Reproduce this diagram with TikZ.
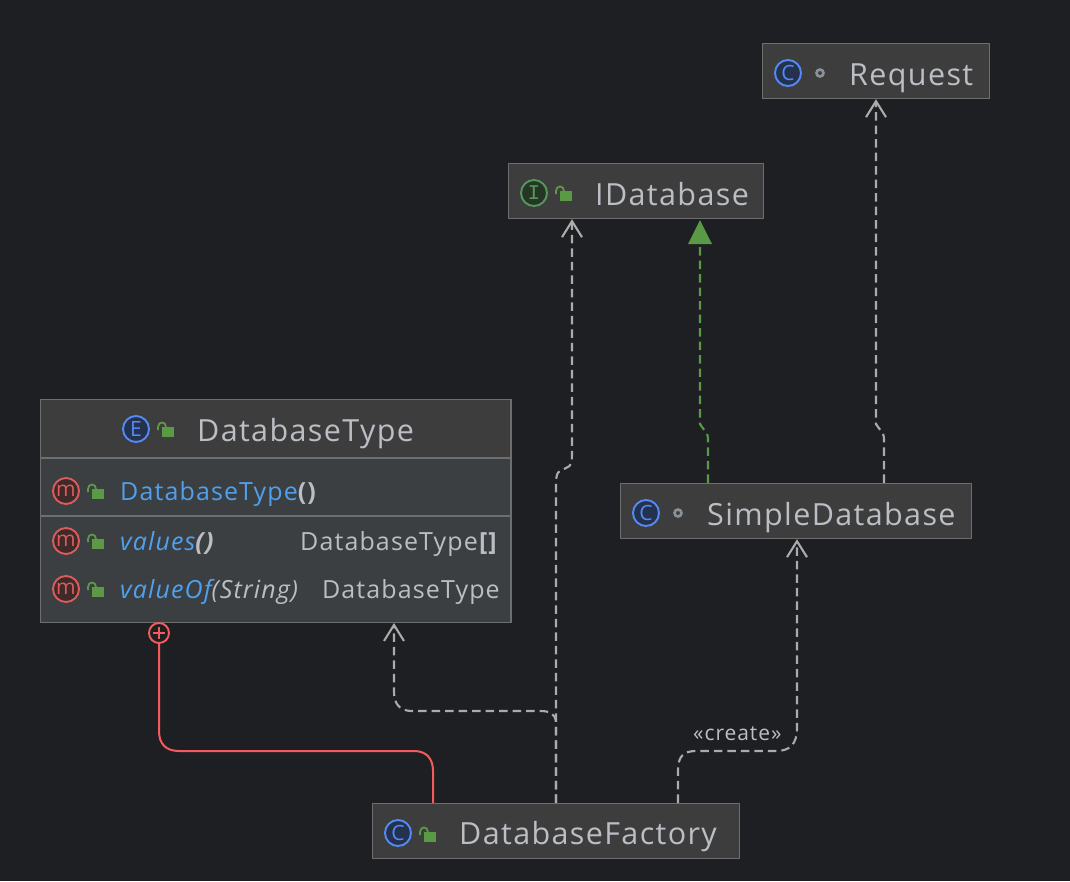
\documentclass[tikz,border=0pt]{standalone}
\usepackage{fontspec}
\setmainfont[LetterSpace=4.5]{Open Sans}
\newfontfamily\serifI{Liberation Mono}
\usetikzlibrary{arrows.meta}
\definecolor{bg}{HTML}{1E1F22}
\definecolor{hdr}{HTML}{3D3D3D}
\definecolor{bodyc}{HTML}{3C3F41}
\definecolor{edge}{HTML}{6E6E6E}
\definecolor{txt}{HTML}{BBBEC4}
\definecolor{meth}{HTML}{4FA0EE}
\definecolor{conn}{HTML}{ABABAB}
\definecolor{grn}{HTML}{57965C}
\definecolor{grnline}{HTML}{5A9A46}
\definecolor{redl}{HTML}{F25C5C}
\definecolor{blu}{HTML}{548AF7}
\definecolor{blud}{HTML}{25324D}
\definecolor{grnd}{HTML}{253627}
\definecolor{redm}{HTML}{DB5C5C}
\definecolor{redd}{HTML}{402929}
\definecolor{dotc}{HTML}{8A9299}
\definecolor{lockc}{HTML}{5A9A46}
\newcommand{\bigsz}{\fontsize{30.5}{32}\selectfont}
\newcommand{\medsz}{\fontsize{25}{28}\selectfont}
\newcommand{\iconsz}{\fontsize{21}{21}\selectfont}
\tikzset{
  x=1pt,y=-1pt,
  classbox/.style={draw=edge,fill=hdr,line width=1.4pt,minimum width=#1,inner sep=0pt,minimum height=55pt},
  title/.style={anchor=base west,text=txt,font=\bigsz,inner sep=0pt},
  member/.style={anchor=base west,text=meth,font=\medsz,inner sep=0pt},
  rettype/.style={anchor=base east,text=txt,font=\medsz,inner sep=0pt},
  noteicon/.style={circle,line width=1.9pt,minimum size=26pt,inner sep=0pt,font=\iconsz},
  blueicon/.style={noteicon,draw=blu,fill=blud,text=blu},
  greenicon/.style={noteicon,draw=grn,fill=grnd,text=grn},
  redicon/.style={noteicon,draw=redm,fill=redd,text=redm},
  dotmark/.style={circle,draw=dotc,line width=2.6pt,minimum size=7pt,inner sep=0pt},
  dep/.style={draw=conn,line width=2.1pt,dash pattern=on 8.5pt off 5pt,-{Straight Barb[length=16pt,width=20pt,line width=2.1pt]}},
  impl/.style={draw=grnline,line width=2.1pt,dash pattern=on 8.5pt off 5pt},
  nested/.style={draw=redl,line width=2pt},
  lockpic/.pic={
    \fill[lockc] (-6,-5) rectangle (6,5);
    \draw[lockc,line width=1.8pt] (-10,-2) -- (-10,-5) .. controls (-10,-11) and (-2,-11) .. (-2,-5);
  }
}
\begin{document}
\begin{tikzpicture}
\useasboundingbox (0,0) rectangle (1070,881);
\fill[bg] (0,0) rectangle (1070,881);

% class boxes
\node[classbox=227pt] (req) at (876,71) {};
\node[classbox=255pt] (idb) at (636,191) {};
\node[classbox=351pt] (sdb) at (796,511) {};
\node[classbox=367pt] (fac) at (556,831) {};
\node[draw=edge,fill=bodyc,line width=1.4pt,minimum width=470.5pt,minimum height=222.5pt,inner sep=0pt] (dbt) at (275.75,511) {};
\fill[hdr] (41.2,400.2) rectangle (510.3,457.5);
\coordinate (sepa) at (40.5,458);
\coordinate (sepb) at (40.5,516);
\draw[edge,line width=1.6pt] (sepa) -- (sepa -| dbt.east);
\draw[edge,line width=1.6pt] (sepb) -- (sepb -| dbt.east);

% connectors
\draw[dep] (556,0 |- fac.north) -- (556,487) .. controls (556,470) and (558,472) .. (566,468) .. controls (572,466) and (572,462) .. (572,450) -- (572,0 |- idb.south);
\draw[dep] (556,0 |- fac.north) -- (556,722) .. controls (555,713) and (549,711) .. (540,711) -- (412,711) .. controls (400,711) and (394,704) .. (394,692) -- (394,0 |- dbt.south);
\draw[dep] (678,0 |- fac.north) -- (678,770) .. controls (678,756) and (684,751) .. (696,751) -- (776,751) .. controls (790,751) and (797,744) .. (797,728) -- (797,0 |- sdb.south);
\draw[dep] (884,0 |- sdb.north) -- (884,440) .. controls (884,432) and (881,432) .. (876,424) -- (876,0 |- req.south);
\draw[impl] (708,0 |- sdb.north) -- (708,440) .. controls (708,432) and (705,432) .. (700,424) -- (700,244);
\coordinate (tipapex) at (700,0 |- idb.south);
\fill[grnline] (tipapex) ++(0,1) -- (712,244) -- (688,244) -- cycle;
\node[circle,draw=redl,line width=1.9pt,minimum size=20pt,inner sep=0pt] (plus) at (159,633) {};
\draw[redl,line width=1.7pt] (153,633) -- (165,633) (159,627) -- (159,639);
\draw[nested] (433,0 |- fac.north) -- (433,771) .. controls (433,758) and (426,751) .. (414,751) -- (179,751) .. controls (166,751) and (159,744) .. (159,731) -- (plus.south);
\node[anchor=base west,text=txt,font=\fontsize{21}{23}\selectfont,inner sep=0pt] (lbl) at (693,740) {«create»};

% Request
\node[blueicon] (ireq) at (788,73) {C};
\node[dotmark] (dreq) at (820,73) {};
\node[title] (treq) at (849,85) {Request};

% IDatabase
\node[greenicon] (iidb) at (534,193) {\serifI I};
\pic at (566,196) {lockpic};
\node[title] (tidb) at (595,205) {IDatabase};

% SimpleDatabase
\node[blueicon] (isdb) at (646,513) {C};
\node[dotmark] (dsdb) at (678,513) {};
\node[title] (tsdb) at (707,525) {SimpleDatabase};

% DatabaseFactory
\node[blueicon] (ifac) at (398,833) {C};
\pic at (430,837) {lockpic};
\node[title] (tfac) at (459,844) {DatabaseFactory};

% DatabaseType
\node[blueicon] (idbt) at (136,429) {E};
\pic at (168,432) {lockpic};
\node[title] (tdbt) at (197,441) {DatabaseType};

\node[redicon] (m1) at (66,491) {m};
\pic at (98,494) {lockpic};
\node[member] (c1) at (120,500) {DatabaseType\textcolor{txt}{\textbf{()}}};

\node[redicon] (m2) at (66,541) {m};
\pic at (98,544) {lockpic};
\node[member] (c2) at (120,550) {\itshape values\textcolor{txt}{\textbf{()}}};
\node[rettype] (r2) at (498,550) {DatabaseType\textbf{[]}};

\node[redicon] (m3) at (66,589) {m};
\pic at (98,592) {lockpic};
\node[member] (c3) at (120,598) {\itshape valueOf\textcolor{txt}{(String)}};
\node[rettype] (r3) at (500,598) {DatabaseType};
\end{tikzpicture}
\end{document}
